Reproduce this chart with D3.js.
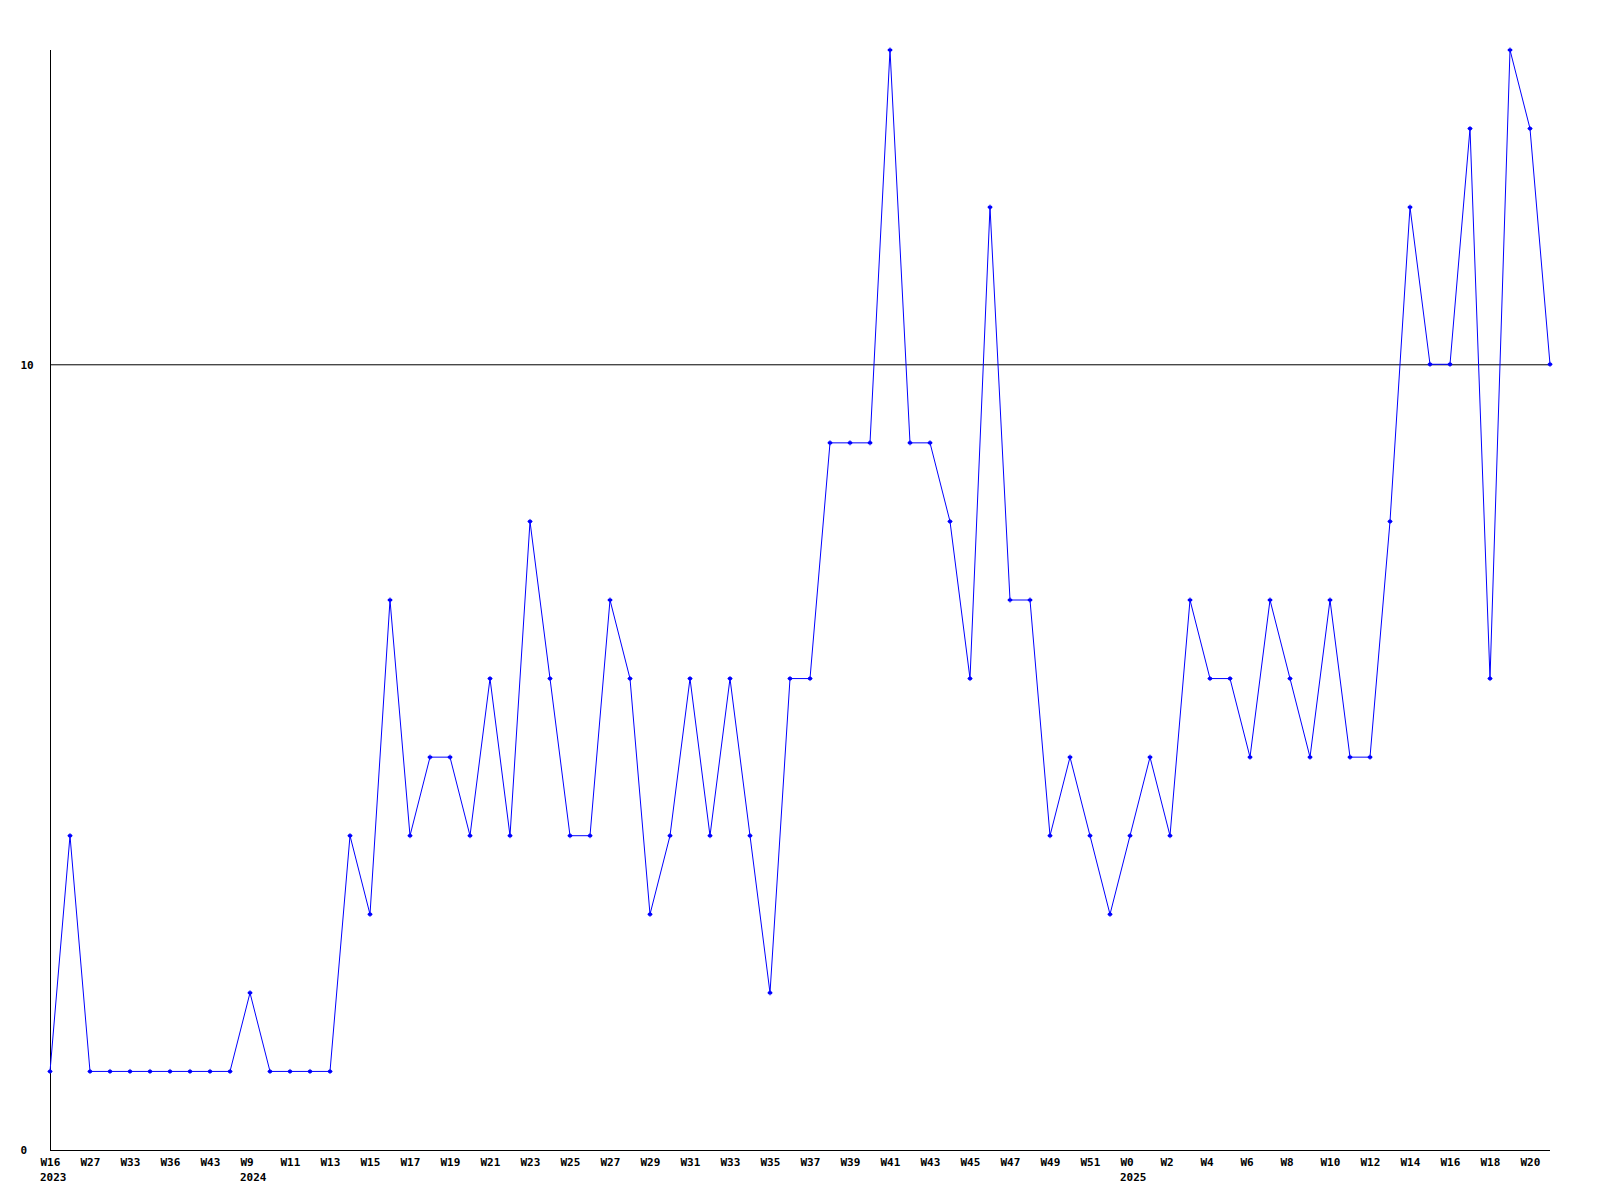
<!DOCTYPE html>
<html>
<head>
<meta charset="utf-8">
<script src="https://cdn.jsdelivr.net/npm/d3@7"></script>
<style>
  html, body { margin: 0; padding: 0; background: #fff; }
  svg { display: block; }
  text { font-family: "DejaVu Sans Mono", "Liberation Mono", monospace; font-weight: bold; font-size: 11px; fill: #000; }
</style>
</head>
<body>
<svg id="chart" width="1600" height="1200"></svg>
<script>
// Week labels for each point (2023: sparse weeks, then 2024, then 2025)
const weeks = [
  "W16","W26","W27","W30","W33","W35","W36","W40","W43","W8",
  "W9","W10","W11","W12","W13","W14","W15","W16","W17","W18",
  "W19","W20","W21","W22","W23","W24","W25","W26","W27","W28",
  "W29","W30","W31","W32","W33","W34","W35","W36","W37","W38",
  "W39","W40","W41","W42","W43","W44","W45","W46","W47","W48",
  "W49","W50","W51","W52","W0","W1","W2","W3","W4","W5",
  "W6","W7","W8","W9","W10","W11","W12","W13","W14","W15",
  "W16","W17","W18","W19","W20","W21"
];
// Year shown under the first label of each year
const yearMarks = [[0, "2023"], [10, "2024"], [54, "2025"]];
const values = [
  1,4,1,1,1,1,1,1,1,1,
  2,1,1,1,1,4,3,7,4,5,
  5,4,6,4,8,6,4,4,7,6,
  3,4,6,4,6,4,2,6,6,9,
  9,9,14,9,9,8,6,12,7,7,
  4,5,4,3,4,5,4,7,6,6,
  5,7,6,5,7,5,5,8,12,10,
  10,13,6,14,13,10
];
const yTicks = [0, 10];
const yMax = 14;

const svg = d3.select("#chart");
const idx = d3.range(values.length);
const x = d3.scalePoint().domain(idx).range([50, 1550]);
const y = d3.scaleLinear().domain([0, yMax]).range([1150, 50]);

// horizontal reference line at 10
svg.append("g").selectAll("line").data(yTicks.filter(t => t > 0)).join("line")
  .attr("x1", 50).attr("x2", 1550)
  .attr("y1", d => y(d) + 0.5).attr("y2", d => y(d) + 0.5)
  .attr("stroke", "#000").attr("stroke-width", 1);

// y axis
const yAxis = svg.append("g").attr("transform", "translate(50.5,0)")
  .call(d3.axisLeft(y).tickValues(yTicks).tickSize(0).tickFormat(d3.format("d")));
yAxis.select(".domain").attr("d", `M0,${y(yMax)}V${y(0) + 0.5}`).attr("stroke", "#000");
yAxis.selectAll(".tick text").attr("x", -30).attr("text-anchor", "start").attr("dy", "0.35em")
  .style("font-family", "DejaVu Sans Mono, monospace").style("font-size", "11px").style("font-weight", "bold");

// x axis
const labelIdx = idx.filter(i => i % 2 === 0);
const xAxis = svg.append("g").attr("transform", "translate(0,1150.5)")
  .call(d3.axisBottom(x).tickValues(labelIdx).tickSize(0).tickFormat(i => weeks[i]));
xAxis.select(".domain").attr("d", `M50,0H${x(values.length - 1)}`).attr("stroke", "#000");
xAxis.selectAll(".tick text").attr("x", -10).attr("text-anchor", "start").attr("y", 12).attr("dy", "0.35em")
  .style("font-family", "DejaVu Sans Mono, monospace").style("font-size", "11px").style("font-weight", "bold");

// year labels, left-aligned with the week label above
svg.append("g").selectAll("text").data(yearMarks).join("text")
  .attr("x", d => x(d[0]) - 10)
  .attr("y", 1177).attr("dy", "0.35em")
  .attr("text-anchor", "start")
  .text(d => d[1]);

// line
svg.append("path").datum(idx)
  .attr("fill", "none").attr("stroke", "#0000ff").attr("stroke-width", 1)
  .attr("d", d3.line().x(i => x(i)).y(i => y(values[i])));

// markers (small plus/diamond)
svg.append("g").selectAll("path").data(idx).join("path")
  .attr("transform", i => `translate(${x(i)},${y(values[i])})`)
  .attr("d", "M-2.5,0H2.5M0,-2.5V2.5M-1.5,-1H1.5V1H-1.5Z")
  .attr("stroke", "#0000ff").attr("stroke-width", 1).attr("fill", "#0000ff");
</script>
</body>
</html>
